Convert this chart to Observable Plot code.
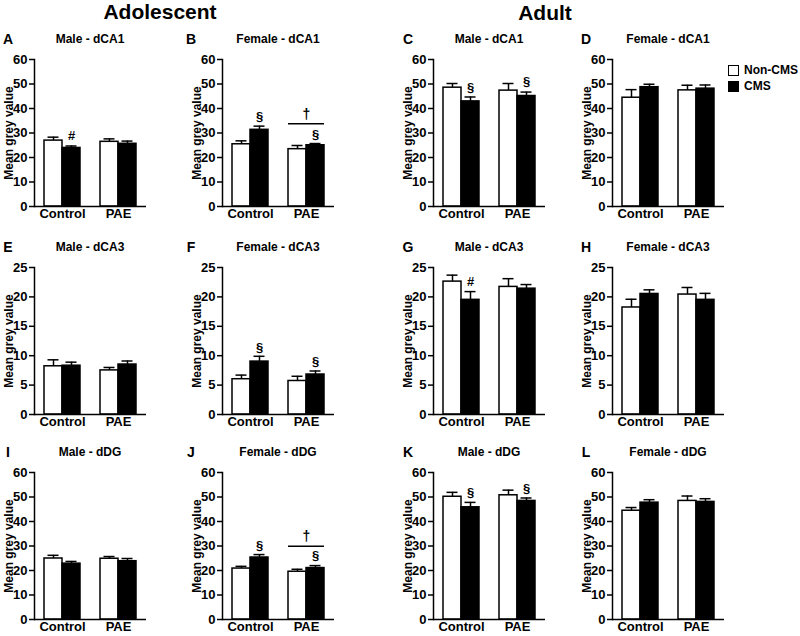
<!DOCTYPE html>
<html><head><meta charset="utf-8">
<script src="https://cdn.jsdelivr.net/npm/d3@7"></script>
<script src="https://cdn.jsdelivr.net/npm/@observablehq/plot@0.6"></script>
<style>
body{margin:0;background:#fff;}
#chart{position:relative;width:800px;height:636px;font-family:"Liberation Sans",Arial,sans-serif;color:#000;overflow:hidden;background:#fff}
.abs{position:absolute;white-space:nowrap;line-height:1}
.c{transform:translate(-50%,-50%)}
svg{position:absolute}
</style></head><body><div id="chart"></div>
<script>
// ---- data ----
const conditions = ["Control", "PAE"];
const groups = ["Non-CMS", "CMS"];
const ageHeadings = ["Adolescent", "Adult"];
const panelLetters = ["A","B","C","D","E","F","G","H","I","J","K","L"];
const panelTitles = ["Male - dCA1","Female - dCA1","Male - dCA1","Female - dCA1",
                     "Male - dCA3","Female - dCA3","Male - dCA3","Female - dCA3",
                     "Male - dDG","Female - dDG","Male - dDG","Female - dDG"];
const yLabel = "Mean grey value";
const yTicks60 = [0, 10, 20, 30, 40, 50, 60];
const yTicks25 = [0, 5, 10, 15, 20, 25];

// values in order: Control/Non-CMS, Control/CMS, PAE/Non-CMS, PAE/CMS
const meanA = [26.9, 23.9, 26.4, 25.6]; const semA = [1.4, 0.8, 1.2, 1.1];
const meanB = [25.4, 31.3, 23.4, 25.0]; const semB = [1.4, 1.5, 1.5, 0.7];
const meanC = [48.5, 42.9, 47.3, 45.1]; const semC = [1.7, 1.8, 2.9, 1.6];
const meanD = [44.4, 48.7, 47.4, 48.1]; const semD = [3.3, 1.2, 2.1, 1.5];
const meanE = [8.2, 8.3, 7.5, 8.5];     const semE = [1.1, 0.6, 0.5, 0.6];
const meanF = [6.0, 9.0, 5.7, 6.8];     const semF = [0.7, 0.9, 0.8, 0.6];
const meanG = [22.6, 19.5, 21.7, 21.4]; const semG = [1.1, 1.4, 1.4, 0.7];
const meanH = [18.2, 20.5, 20.4, 19.5]; const semH = [1.4, 0.7, 1.2, 1.1];
const meanI = [24.9, 22.8, 24.8, 23.8]; const semI = [1.3, 0.9, 0.9, 1.1];
const meanJ = [20.8, 25.3, 19.5, 21.0]; const semJ = [0.9, 1.2, 1.0, 1.0];
const meanK = [50.1, 45.8, 50.7, 48.4]; const semK = [1.8, 2.0, 2.1, 1.2];
const meanL = [44.4, 47.7, 48.4, 48.0]; const semL = [1.3, 1.2, 2.0, 1.3];

// significance marks
const notesA = [{condition:"Control", group:"CMS", y:29.0, text:"#"}];
const notesB = [{condition:"Control", group:"CMS", y:36.8, text:"§"}, {condition:"PAE", group:"CMS", y:29.4, text:"§"}];
const notesC = [{condition:"Control", group:"CMS", y:48.5, text:"§"}, {condition:"PAE", group:"CMS", y:50.8, text:"§"}];
const notesF = [{condition:"Control", group:"CMS", y:11.4, text:"§"}, {condition:"PAE", group:"CMS", y:8.9, text:"§"}];
const notesG = [{condition:"Control", group:"CMS", y:22.6, text:"#"}];
const notesJ = [{condition:"Control", group:"CMS", y:29.9, text:"§"}, {condition:"PAE", group:"CMS", y:25.9, text:"§"}];
const notesK = [{condition:"Control", group:"CMS", y:51.9, text:"§"}, {condition:"PAE", group:"CMS", y:53.2, text:"§"}];
const bracketB = [{condition:"PAE", from:"Non-CMS", to:"CMS", y:33.8, labelY:37.6, text:"†"}];
const bracketJ = [{condition:"PAE", from:"Non-CMS", to:"CMS", y:29.9, labelY:33.9, text:"†"}];

const panels = [
  {mean:meanA, sem:semA, ticks:yTicks60, notes:notesA, bracket:[]},
  {mean:meanB, sem:semB, ticks:yTicks60, notes:notesB, bracket:bracketB},
  {mean:meanC, sem:semC, ticks:yTicks60, notes:notesC, bracket:[]},
  {mean:meanD, sem:semD, ticks:yTicks60, notes:[], bracket:[]},
  {mean:meanE, sem:semE, ticks:yTicks25, notes:[], bracket:[]},
  {mean:meanF, sem:semF, ticks:yTicks25, notes:notesF, bracket:[]},
  {mean:meanG, sem:semG, ticks:yTicks25, notes:notesG, bracket:[]},
  {mean:meanH, sem:semH, ticks:yTicks25, notes:[], bracket:[]},
  {mean:meanI, sem:semI, ticks:yTicks60, notes:[], bracket:[]},
  {mean:meanJ, sem:semJ, ticks:yTicks60, notes:notesJ, bracket:bracketJ},
  {mean:meanK, sem:semK, ticks:yTicks60, notes:notesK, bracket:[]},
  {mean:meanL, sem:semL, ticks:yTicks60, notes:[], bracket:[]}
];

// ---- layout ----
const chart = document.getElementById("chart");
const FONT = '"Liberation Sans", Arial, sans-serif';
const colAxisX = [34, 222, 433, 612];
const rowBaseY = [206, 414, 619];
const letterX = [8, 191, 408, 586];
const plotW = 112, plotH = 147;
const mL = 34, mR = 6, mT = 8, mB = 18;

function addText(txt, x, y, css, cls = "abs c") {
  const d = document.createElement("div");
  d.className = cls;
  d.textContent = txt;
  d.style.left = x + "px";
  d.style.top = y + "px";
  Object.assign(d.style, css);
  chart.appendChild(d);
  return d;
}

addText(ageHeadings[0], 160, 11, {fontSize:"21px", fontWeight:"bold"});
addText(ageHeadings[1], 545, 12, {fontSize:"21px", fontWeight:"bold"});

panels.forEach((p, i) => {
  const col = i % 4, row = Math.floor(i / 4);
  const ax = colAxisX[col], base = rowBaseY[row], top = base - plotH;
  const data = [];
  conditions.forEach((c, ci) => groups.forEach((g, gi) => {
    const k = ci * 2 + gi;
    data.push({condition: c, group: g, mean: p.mean[k], top: p.mean[k] + p.sem[k]});
  }));
  const svg = Plot.plot({
    width: mL + plotW + mR, height: mT + plotH + mB,
    marginLeft: mL, marginRight: mR, marginTop: mT, marginBottom: mB,
    style: {fontFamily: FONT, fontSize: "13px", fontWeight: "bold", color: "#000", background: "transparent", overflow: "visible"},
    fx: {domain: conditions, padding: 0, label: null},
    x: {domain: groups, paddingInner: 0, paddingOuter: 0.5, axis: null},
    y: {domain: [0, p.ticks[p.ticks.length - 1]], label: null},
    color: {domain: groups, range: ["#ffffff", "#000000"]},
    marks: [
      Plot.barY(data, {fx: "condition", x: "group", y: "mean", fill: "group", stroke: "#000", strokeWidth: 1.5}),
      Plot.ruleX(data, {fx: "condition", x: "group", y1: "mean", y2: "top", stroke: "#000", strokeWidth: 1.5}),
      Plot.tickY(data, {fx: "condition", x: "group", y: "top", stroke: "#000", strokeWidth: 1.5, insetLeft: 3.5, insetRight: 3.5}),
      Plot.ruleY(p.bracket, {fx: "condition", x1: "from", x2: "to", y: "y", stroke: "#000", strokeWidth: 1.5}),
      Plot.text(p.bracket, {fx: "condition", y: "labelY", text: "text", fontSize: 14, fontWeight: "bold", fill: "#000"}),
      Plot.text(p.notes, {fx: "condition", x: "group", y: "y", text: "text", fontSize: 13, fontWeight: "bold", fill: "#000"}),
      Plot.ruleY([0], {stroke: "#000", strokeWidth: 1.5}),
      Plot.frame({anchor: "left", facetAnchor: "left", stroke: "#000", strokeWidth: 1.5}),
      Plot.axisY(p.ticks, {tickSize: 5, tickPadding: 2, strokeWidth: 1.5, label: null, fill: "#000"}),
      Plot.axisFx({anchor: "bottom", tickSize: 0, tickPadding: 2, label: null, fill: "#000", fontSize: 13})
    ]
  });
  svg.style.left = (ax - mL) + "px";
  svg.style.top = (top - mT) + "px";
  chart.appendChild(svg);

  addText(panelTitles[i], ax + plotW / 2, top - 20, {fontSize: "12px", fontWeight: "bold"});
  addText(panelLetters[i], letterX[col], top - 20, {fontSize: "14px", fontWeight: "bold"});
  addText(yLabel, ax - 25, top + plotH / 2, {fontSize: "12px", fontWeight: "bold", transform: "translate(-50%,-50%) rotate(-90deg)"});
});

// legend
groups.forEach((g, gi) => {
  const sw = document.createElement("div");
  sw.className = "abs";
  Object.assign(sw.style, {left: "728px", top: (65 + gi * 16) + "px", width: "9px", height: "9px",
    border: "1.5px solid #000", background: gi === 0 ? "#fff" : "#000"});
  chart.appendChild(sw);
  addText(g, 744, 70 + gi * 16, {fontSize: "12px", fontWeight: "bold", transform: "translate(0,-50%)"});
});
</script></body></html>
